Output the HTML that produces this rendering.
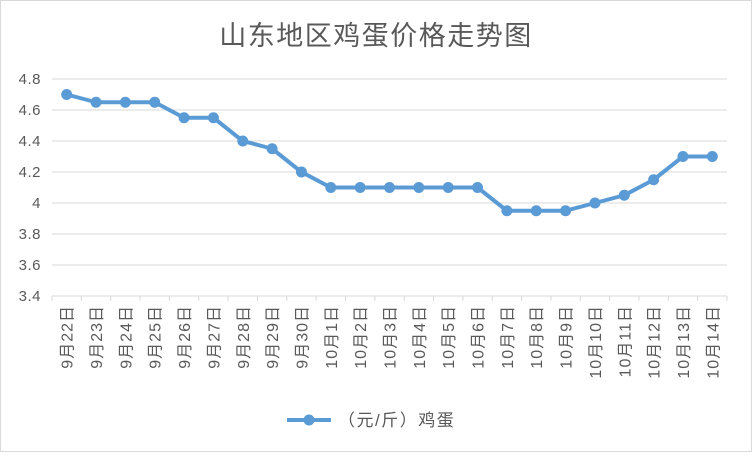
<!DOCTYPE html>
<html><head><meta charset="utf-8"><style>
body{margin:0;background:#fff}
svg text{font-family:"Liberation Sans","Noto Sans CJK SC",sans-serif}
</style></head><body>
<svg width="752" height="452" xmlns="http://www.w3.org/2000/svg">
<rect x="0.5" y="0.5" width="751" height="451" fill="#fff" stroke="#d9d9d9"/>
<text x="376" y="45" text-anchor="middle" font-size="27" letter-spacing="1.5" fill="#595959">山东地区鸡蛋价格走势图</text>
<g id="grid"></g><g id="axes"></g><g id="series"></g>
<g>
<line x1="287" y1="420" x2="331" y2="420" stroke="#5b9bd5" stroke-width="4"/>
<circle cx="309" cy="420" r="5.5" fill="#5b9bd5"/>
<text x="338" y="426" font-size="17" letter-spacing="1.5" fill="#595959">（元/斤）鸡蛋</text>
</g>
</svg>
<script>
const categories=["9月22日","9月23日","9月24日","9月25日","9月26日","9月27日","9月28日","9月29日","9月30日","10月1日","10月2日","10月3日","10月4日","10月5日","10月6日","10月7日","10月8日","10月9日","10月10日","10月11日","10月12日","10月13日","10月14日"];
const values=[4.7,4.65,4.65,4.65,4.55,4.55,4.4,4.35,4.2,4.1,4.1,4.1,4.1,4.1,4.1,3.95,3.95,3.95,4.0,4.05,4.15,4.3,4.3];
const yTicks=[3.4,3.6,3.8,4,4.2,4.4,4.6,4.8];
const yTickLabels=["3.4","3.6","3.8","4","4.2","4.4","4.6","4.8"];
const NS="http://www.w3.org/2000/svg";
const L=52,R=727,T=79,B=296,yMin=3.4,yMax=4.8;
const bw=(R-L)/categories.length;
function xC(i){return L+bw*(i+0.5);}
function yS(v){return B-(v-yMin)/(yMax-yMin)*(B-T);}
function mk(t,a,p){const e=document.createElementNS(NS,t);for(const k in a)e.setAttribute(k,a[k]);p.appendChild(e);return e;}
const grid=document.getElementById('grid'),axes=document.getElementById('axes'),ser=document.getElementById('series');
yTicks.forEach((v,i)=>{
 if(i>0){const g=mk('line',{x1:L,x2:R,y1:yS(v),y2:yS(v),stroke:'#d9d9d9'},grid);
 
 }
 const t=mk('text',{x:L-11,y:yS(v)+5,'text-anchor':'end','font-size':'15','letter-spacing':'0.5',fill:'#595959'},axes);
 t.textContent=yTickLabels[i];
 
 
});
const ax=mk('line',{x1:L,x2:R,y1:B,y2:B,stroke:'#d9d9d9'},axes);


for(let i=0;i<=categories.length;i++){
 const tk=mk('line',{x1:L+bw*i,x2:L+bw*i,y1:B,y2:B+5,stroke:'#d9d9d9'},axes);
 
 
}
categories.forEach((c,i)=>{
 const x=xC(i)+6,y=305;
 const t=mk('text',{x:x,y:y,'text-anchor':'end','font-size':'16','letter-spacing':'1',fill:'#595959',transform:`rotate(-90 ${x} ${y})`},axes);
 t.textContent=c;
 
 
});
const pl=mk('polyline',{points:values.map((v,i)=>xC(i)+','+yS(v)).join(' '),fill:'none',stroke:'#5b9bd5','stroke-width':'4','stroke-linejoin':'round'},ser);


values.forEach((v,i)=>{
 const c=mk('circle',{cx:xC(i),cy:yS(v),r:5.5,fill:'#5b9bd5'},ser);
 
 
});
</script>
</body></html>
